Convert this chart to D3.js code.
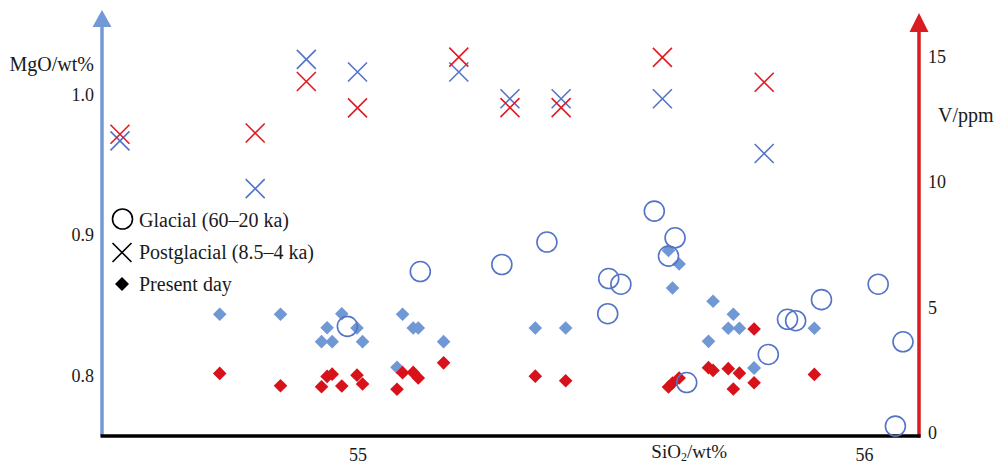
<!DOCTYPE html>
<html>
<head>
<meta charset="utf-8">
<script src="https://cdn.jsdelivr.net/npm/d3@7"></script>
<style>
  html, body { margin: 0; padding: 0; background: #fff; }
  svg { display: block; font-family: "Liberation Serif", "Times New Roman", serif; }
</style>
</head>
<body>
<svg id="chart" width="994" height="464"></svg>
<script>
// Glacial (60–20 ka): MgO only
const sio2Glacial = [54.980, 55.124, 55.285, 55.374, 55.494, 55.496, 55.520, 55.586, 55.614,
                     55.627, 55.650, 55.811, 55.849, 55.865, 55.916, 56.028, 56.077, 56.062];
const mgoGlacial  = [0.835, 0.874, 0.879, 0.895, 0.844, 0.869, 0.865, 0.917, 0.885,
                     0.898, 0.795, 0.815, 0.840, 0.839, 0.854, 0.865, 0.824, 0.764];

// Postglacial (8.5–4 ka): MgO and V
const sio2Post = [54.531, 54.798, 54.899, 55.000, 55.200, 55.301, 55.402, 55.602, 55.803];
const mgoPost  = [0.967, 0.933, 1.025, 1.016, 1.016, 0.997, 0.997, 0.997, 0.958];
const vPost    = [11.90, 11.95, 14.00, 12.95, 14.97, 12.96, 12.96, 14.96, 13.97];

// Present day: MgO and V
const sio2Present = [54.728, 54.848, 54.929, 54.940, 54.950, 54.969, 54.999, 55.010, 55.078,
                     55.089, 55.110, 55.120, 55.170, 55.351, 55.411, 55.614, 55.622, 55.635,
                     55.693, 55.702, 55.732, 55.742, 55.754, 55.783, 55.783, 55.902];
const mgoPresent  = [0.8436, 0.8436, 0.8241, 0.8340, 0.8241, 0.8440, 0.8338, 0.8241, 0.8058,
                     0.8436, 0.8338, 0.8338, 0.8241, 0.8338, 0.8338, 0.8890, 0.8623, 0.8794,
                     0.8243, 0.8528, 0.8336, 0.8436, 0.8336, 0.8053, 0.8053, 0.8336];
const vPresent    = [2.37, 1.88, 1.84, 2.25, 2.34, 1.87, 2.30, 1.95, 1.74,
                     2.40, 2.41, 2.19, 2.79, 2.26, 2.08, 1.83, 1.99, 2.19,
                     2.60, 2.49, 2.56, 1.75, 2.38, 4.14, 2.00, 2.33];

const sio2Ticks = [55, 56];
const mgoTicks  = [0.8, 0.9, 1.0];
const vTicks    = [0, 5, 10, 15];

const legendLabels = ["Glacial (60\u201320 ka)", "Postglacial (8.5\u20134 ka)", "Present day"];

// ---- layout & styles ----
const BLUE_AXIS = "#7398d6", RED_AXIS = "#d81c1f";
const BLUE_MARK = "#5474c8", BLUE_FILL = "#7098d4", RED_MARK = "#e01b24", RED_FILL = "#d8121a";
const TEXT = "#1a1a1a";
const leftX = 102, rightX = 919, baseY = 436;

const svg = d3.select("#chart");

const x  = d3.scaleLinear().domain([55, 56]).range([357.5, 864]);
const yM = d3.scaleLinear().domain([0.8, 1.0]).range([375.5, 94.5]);
const yV = d3.scaleLinear().domain([0, 15]).range([432.9, 56.4]);

// ---- axes ----
// left MgO axis with arrow
svg.append("line").attr("x1", leftX).attr("x2", leftX).attr("y1", baseY).attr("y2", 24)
  .attr("stroke", BLUE_AXIS).attr("stroke-width", 3.5);
svg.append("path").attr("d", `M${leftX - 9.5},27 L${leftX},10 L${leftX + 9.5},27 Z`).attr("fill", BLUE_AXIS);

// right V axis with arrow
svg.append("line").attr("x1", rightX).attr("x2", rightX).attr("y1", baseY + 1.5).attr("y2", 29)
  .attr("stroke", RED_AXIS).attr("stroke-width", 3.5);
svg.append("path").attr("d", `M${rightX - 9.5},32 L${rightX},13 L${rightX + 9.5},32 Z`).attr("fill", RED_AXIS);

// bottom SiO2 axis
svg.append("line").attr("x1", leftX - 1.5).attr("x2", rightX + 1.5).attr("y1", baseY).attr("y2", baseY)
  .attr("stroke", "#000").attr("stroke-width", 3.5);

function styleAxis(g) {
  g.select(".domain").remove();
  g.selectAll(".tick line").remove();
  g.selectAll(".tick text").attr("fill", TEXT).style("font-size", "18px")
    .style("font-family", "'Liberation Serif', 'Times New Roman', serif");
}

svg.append("g").attr("transform", `translate(0,${baseY})`)
  .call(d3.axisBottom(x).tickValues(sio2Ticks).tickSize(0).tickPadding(10).tickFormat(d3.format("d")))
  .call(styleAxis)
  .selectAll(".tick text").attr("dy", "0.71em").attr("y", 12);

svg.append("g").attr("transform", `translate(${leftX - 8},0)`)
  .call(d3.axisLeft(yM).tickValues(mgoTicks).tickSize(0).tickPadding(0).tickFormat(d3.format(".1f")))
  .call(styleAxis);

svg.append("g").attr("transform", `translate(${rightX + 9},0)`)
  .call(d3.axisRight(yV).tickValues(vTicks).tickSize(0).tickPadding(0).tickFormat(d3.format("d")))
  .call(styleAxis);

// axis titles
svg.append("text").attr("x", 94).attr("y", 71).attr("text-anchor", "end")
  .attr("fill", TEXT).style("font-size", "20px").text("MgO/wt%");
svg.append("text").attr("x", 938).attr("y", 122).attr("text-anchor", "start")
  .attr("fill", TEXT).style("font-size", "20px").text("V/ppm");
const sx = svg.append("text").attr("x", 727).attr("y", 458).attr("text-anchor", "end")
  .attr("fill", TEXT).style("font-size", "19px");
sx.append("tspan").text("SiO");
sx.append("tspan").attr("dy", 3).style("font-size", "12px").text("2");
sx.append("tspan").attr("dy", -3).text("/wt%");

// ---- marks ----
function diamondPath(h) {
  return `M0,${-h} L${h},0 L0,${h} L${-h},0 Z`;
}
function crossPath(h) {
  return `M${-h},${-h} L${h},${h} M${-h},${h} L${h},${-h}`;
}

const present = sio2Present.map((s, i) => ({ s, m: mgoPresent[i], v: vPresent[i] }));
const post = sio2Post.map((s, i) => ({ s, m: mgoPost[i], v: vPost[i] }));
const glacial = sio2Glacial.map((s, i) => ({ s, m: mgoGlacial[i] }));

// present-day diamonds: MgO (blue) then V (red)
svg.append("g").selectAll("path").data(present).join("path")
  .attr("d", diamondPath(6.8))
  .attr("transform", d => `translate(${x(d.s)},${yM(d.m)})`)
  .attr("fill", BLUE_FILL);
svg.append("g").selectAll("path").data(present).join("path")
  .attr("d", diamondPath(6.8))
  .attr("transform", d => `translate(${x(d.s)},${yV(d.v)})`)
  .attr("fill", RED_FILL);

// glacial circles (MgO)
svg.append("g").selectAll("circle").data(glacial).join("circle")
  .attr("cx", d => x(d.s)).attr("cy", d => yM(d.m)).attr("r", 10)
  .attr("fill", "none").attr("stroke", BLUE_MARK).attr("stroke-width", 1.6);

// postglacial crosses: MgO (blue) and V (red)
svg.append("g").selectAll("path").data(post).join("path")
  .attr("d", crossPath(9.5))
  .attr("transform", d => `translate(${x(d.s)},${yM(d.m)})`)
  .attr("fill", "none").attr("stroke", BLUE_MARK).attr("stroke-width", 1.6);
svg.append("g").selectAll("path").data(post).join("path")
  .attr("d", crossPath(9.5))
  .attr("transform", d => `translate(${x(d.s)},${yV(d.v)})`)
  .attr("fill", "none").attr("stroke", RED_MARK).attr("stroke-width", 1.6);

// ---- legend ----
const lg = svg.append("g");
const rows = [227, 259, 291];
lg.append("circle").attr("cx", 122.5).attr("cy", 219).attr("r", 10)
  .attr("fill", "none").attr("stroke", "#000").attr("stroke-width", 1.6);
lg.append("path").attr("d", crossPath(9.5)).attr("transform", "translate(122,252.5)")
  .attr("fill", "none").attr("stroke", "#000").attr("stroke-width", 1.6);
lg.append("path").attr("d", diamondPath(7)).attr("transform", "translate(122,284)").attr("fill", "#000");
lg.selectAll("text").data(legendLabels).join("text")
  .attr("x", 139).attr("y", (d, i) => rows[i])
  .attr("fill", TEXT).style("font-size", "20px").text(d => d);
</script>
</body>
</html>
